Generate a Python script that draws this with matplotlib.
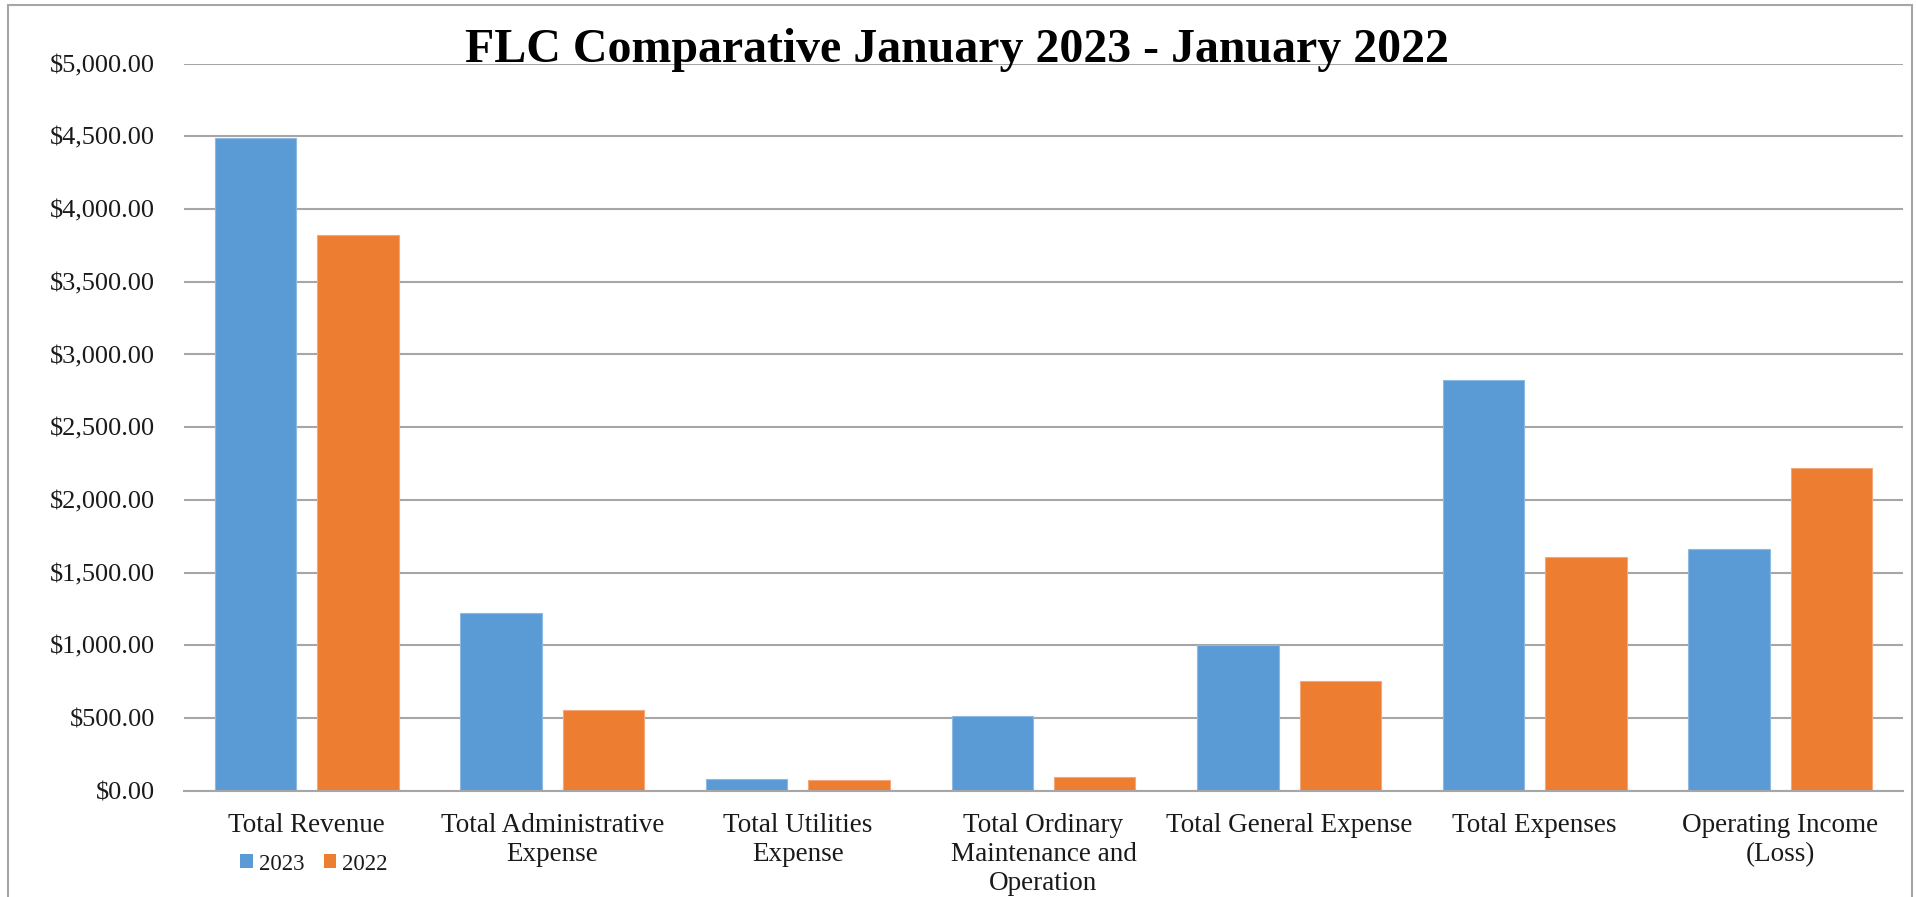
import numpy as np
import matplotlib
matplotlib.use("Agg")
import matplotlib.pyplot as plt
from matplotlib.patches import Rectangle, Patch
from matplotlib.ticker import FuncFormatter, MultipleLocator

plt.rcParams['font.family'] = ['Liberation Serif', 'DejaVu Serif']

categories = ["Total Revenue", "Total Administrative\nExpense", "Total Utilities\nExpense",
              "Total Ordinary\nMaintenance and\nOperation", "Total General Expense",
              "Total Expenses", "Operating Income\n(Loss)"]
values_2023 = [4486, 1220, 80, 513, 1000, 2823, 1663]
values_2022 = [3824, 554, 71, 94, 756, 1607, 2217]
series_names = ["2023", "2022"]

blue = "#5B9BD5"
orange = "#ED7D31"
grid_grey = "#A6A6A6"

W, H = 1916, 897
fig = plt.figure(figsize=(W / 100, H / 100), dpi=100)
ax = fig.add_axes([184 / W, 1 - 790.7 / H, (1903 - 184) / W, (790.7 - 63.7) / H])

x = np.arange(len(categories))
bw = 0.332
off = 0.2085
ax.bar(x - off, values_2023, width=bw, color=blue, edgecolor="#8DB9E3", linewidth=0.8, zorder=3)
ax.bar(x + off, values_2022, width=bw, color=orange, edgecolor="#F3A77A", linewidth=0.8, zorder=3)

ax.set_xlim(-0.5, len(categories) - 0.5)
ax.set_ylim(0, 5000)
ax.yaxis.set_major_locator(MultipleLocator(500))
ax.yaxis.set_major_formatter(FuncFormatter(lambda v, p: "${:,.2f}".format(v)))
ax.set_xticks(x)
ax.set_xticklabels(categories, linespacing=1.22, va="top")
ax.tick_params(axis="y", length=0, pad=21, labelsize=19, labelcolor="#1a1a1a")
ax.tick_params(axis="x", length=0, pad=16, labelsize=19.5, labelcolor="#1a1a1a")

ax.grid(axis="y", color=grid_grey, linewidth=1.5, zorder=0)
for s in ["left", "right", "top"]:
    ax.spines[s].set_visible(False)
ax.spines["bottom"].set_color(grid_grey)
ax.spines["bottom"].set_linewidth(1.5)
ax.spines["bottom"].set_zorder(4)

fig.text(957 / W, 1 - 62 / H, "FLC Comparative January 2023 - January 2022",
         ha="center", va="baseline", fontsize=34.5, fontweight="bold", color="black")

handles = [Patch(facecolor=blue, edgecolor="none"), Patch(facecolor=orange, edgecolor="none")]
fig.legend(handles, series_names, loc="center", bbox_to_anchor=(314 / W, 1 - 864 / H),
           ncol=2, frameon=False, fontsize=16.5, handlelength=0.55, handleheight=0.55,
           handletextpad=0.25, columnspacing=0.85, borderpad=0,
           labelcolor="#1a1a1a")

# outer chart border
fig.patches.append(Rectangle((8 / W, -0.02), (1912 - 8) / W, 1.02 - 5 / H,
                             transform=fig.transFigure, fill=False,
                             edgecolor=grid_grey, linewidth=1.5))

fig.savefig("out.png", dpi=100, facecolor="white")
